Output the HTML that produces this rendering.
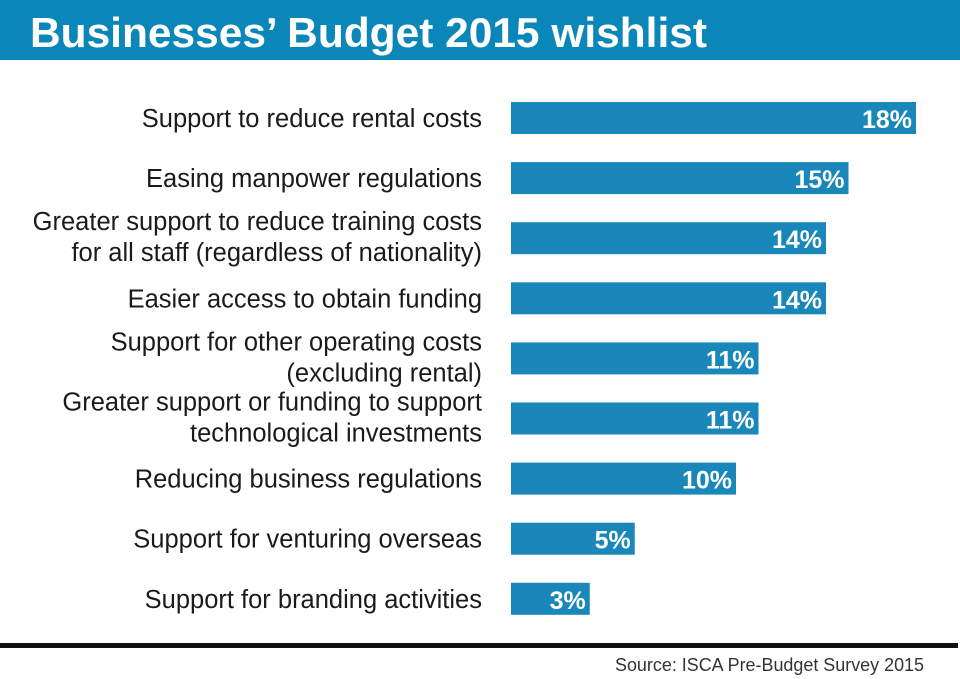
<!DOCTYPE html>
<html><head><meta charset="utf-8"><style>
body{margin:0;background:#fff;}
svg{display:block;font-family:"Liberation Sans",sans-serif;}
</style></head><body>
<svg id="chart" width="960" height="679" viewBox="0 0 960 679">
<rect x="0" y="0" width="960" height="60" fill="#0a86b8"/>
<text x="30" y="47" fill="#fff" font-size="42" font-weight="bold" textLength="677" lengthAdjust="spacingAndGlyphs">Businesses’ Budget 2015 wishlist</text>
<g id="bars"></g>
<rect x="0" y="643" width="958" height="5" fill="#111"/>
<text x="924" y="671" text-anchor="end" fill="#333" font-size="18" textLength="309" lengthAdjust="spacingAndGlyphs">Source:  ISCA Pre-Budget Survey 2015</text>
</svg>
<script>
const categories=[["Support to reduce rental costs"],["Easing manpower regulations"],["Greater support to reduce training costs","for all staff (regardless of nationality)"],["Easier access to obtain funding"],["Support for other operating costs","(excluding rental)"],["Greater support or funding to support","technological investments"],["Reducing business regulations"],["Support for venturing overseas"],["Support for branding activities"]];
const values=[18,15,14,14,11,11,10,5.5,3.5];
const valueLabels=["18%","15%","14%","14%","11%","11%","10%","5%","3%"];
const x0=511, pxPer=22.5, y0=118, step=60.1, bh=32;
const xs=v=>x0+v*pxPer;
const yc=i=>y0+i*step;
const g=document.getElementById('bars');
const NS='http://www.w3.org/2000/svg';
values.forEach((v,i)=>{
  const r=document.createElementNS(NS,'rect');
  r.setAttribute('x',x0);r.setAttribute('y',yc(i)-bh/2);
  r.setAttribute('width',xs(v)-x0);r.setAttribute('height',bh);
  r.setAttribute('fill','#1987ba');
  
  
  g.appendChild(r);
  const t=document.createElementNS(NS,'text');
  t.setAttribute('x',xs(v)-4);t.setAttribute('y',yc(i)+10);
  t.setAttribute('text-anchor','end');t.setAttribute('fill','#fff');
  t.setAttribute('font-size','25');t.setAttribute('font-weight','bold');
  t.textContent=valueLabels[i];
  
  
  g.appendChild(t);
  const lines=categories[i];
  lines.forEach((ln,j)=>{
    const l=document.createElementNS(NS,'text');
    const dy=lines.length===1?9:(j===0?-8:23);
    l.setAttribute('x',482);l.setAttribute('y',yc(i)+dy);
    l.setAttribute('text-anchor','end');l.setAttribute('fill','#1a1a1a');
    l.setAttribute('font-size','25.5');
    l.textContent=ln;
    
    
    g.appendChild(l);
  });
});
</script>
</body></html>
